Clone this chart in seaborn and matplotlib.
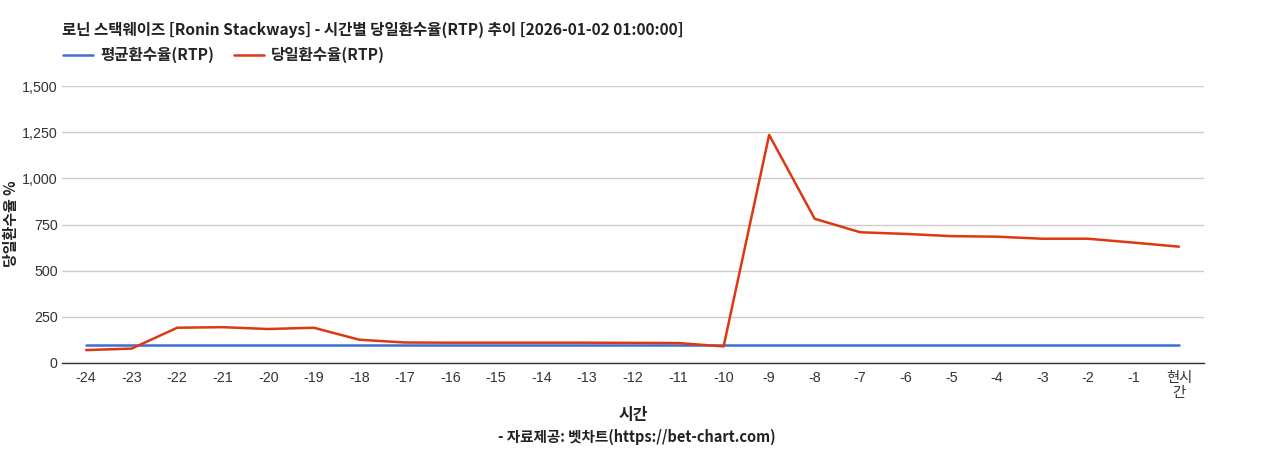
import matplotlib
matplotlib.use("Agg")
import matplotlib.pyplot as plt
import seaborn as sns
import pandas as pd
from matplotlib.lines import Line2D

title = "로닌 스택웨이즈 [Ronin Stackways] - 시간별 당일환수율(RTP) 추이 [2026-01-02 01:00:00]"
hours = ["-24", "-23", "-22", "-21", "-20", "-19", "-18", "-17", "-16", "-15", "-14", "-13",
         "-12", "-11", "-10", "-9", "-8", "-7", "-6", "-5", "-4", "-3", "-2", "-1", "현시간"]
avg_rtp = [95] * 25
daily_rtp = [70, 78, 191, 194, 184, 191, 126, 111, 110, 110, 110, 110,
             109, 108, 90, 1235, 781, 708, 699, 687, 684, 673, 673, 652, 630]
series_names = ["평균환수율(RTP)", "당일환수율(RTP)"]
colors = ["#3d6fd4", "#dc3912"]
yticks = [0, 250, 500, 750, 1000, 1250, 1500]

sns.set_theme(style="white")
plt.rcParams['font.family'] = ['Noto Sans CJK KR', 'DejaVu Sans']

df = pd.DataFrame({
    "시간": list(range(len(hours))) * 2,
    "value": avg_rtp + daily_rtp,
    "series": [series_names[0]] * len(hours) + [series_names[1]] * len(hours),
})

fig = plt.figure(figsize=(12.68, 4.5), dpi=100)
ax = fig.add_axes([62 / 1268, 87 / 450, 1142 / 1268, 277 / 450])

sns.lineplot(data=df, x="시간", y="value", hue="series", palette=colors,
             hue_order=series_names, linewidth=1.8, ax=ax, legend=False)

ax.set_xlim(-0.53, len(hours) - 1 + 0.55)
ax.set_ylim(0, 1500)
ax.set_yticks(yticks)
ax.set_yticklabels([f"{v:,}" for v in yticks], family=['Liberation Sans'], fontsize=10.3, color="#333333")
ax.set_xticks(range(len(hours)))
labels = [h if h != "현시간" else "현시\n간" for h in hours]
ax.set_xticklabels(labels, fontsize=10.3, color="#333333",
                   family=['Liberation Sans', 'Noto Sans CJK KR'], linespacing=1.05)
ax.tick_params(axis="x", length=0, pad=6)
ax.tick_params(axis="y", length=0, pad=3)
ax.yaxis.grid(True, color="#cccccc", linewidth=1)
ax.xaxis.grid(False)
for s in ["top", "right", "left"]:
    ax.spines[s].set_visible(False)
ax.spines["bottom"].set_color("#333333")
ax.spines["bottom"].set_linewidth(1)
ax.set_axisbelow(True)

ax.set_xlabel("")
ax.set_ylabel("")
fig.text(11 / 1268, 1 - 224 / 450, "당일환수율 %", rotation=90, ha="center", va="center",
         fontsize=10.8, fontweight="bold", color="#222222")
fig.text(633 / 1268, 1 - 415 / 450, "시간", ha="center", va="center",
         fontsize=11.5, fontweight="bold", color="#222222")
fig.text(637 / 1268, 1 - 437 / 450, "- 자료제공: 벳차트(https://bet-chart.com)", ha="center", va="center",
         fontsize=10.5, fontweight="bold", color="#222222")

fig.text(62 / 1268, 1 - 30 / 450, title, ha="left", va="center",
         fontsize=11.2, fontweight="bold", color="#222222")

handles = [Line2D([], [], color=c, linewidth=1.8) for c in colors]
fig.legend(handles, series_names, loc="center left", bbox_to_anchor=(63 / 1268, 1 - 55 / 450),
           ncol=2, frameon=False, handlelength=1.93, handletextpad=0.45,
           columnspacing=1.28, borderpad=0, borderaxespad=0,
           prop={'weight': 'bold', 'size': 11.2})

fig.savefig("out.png", dpi=100)
